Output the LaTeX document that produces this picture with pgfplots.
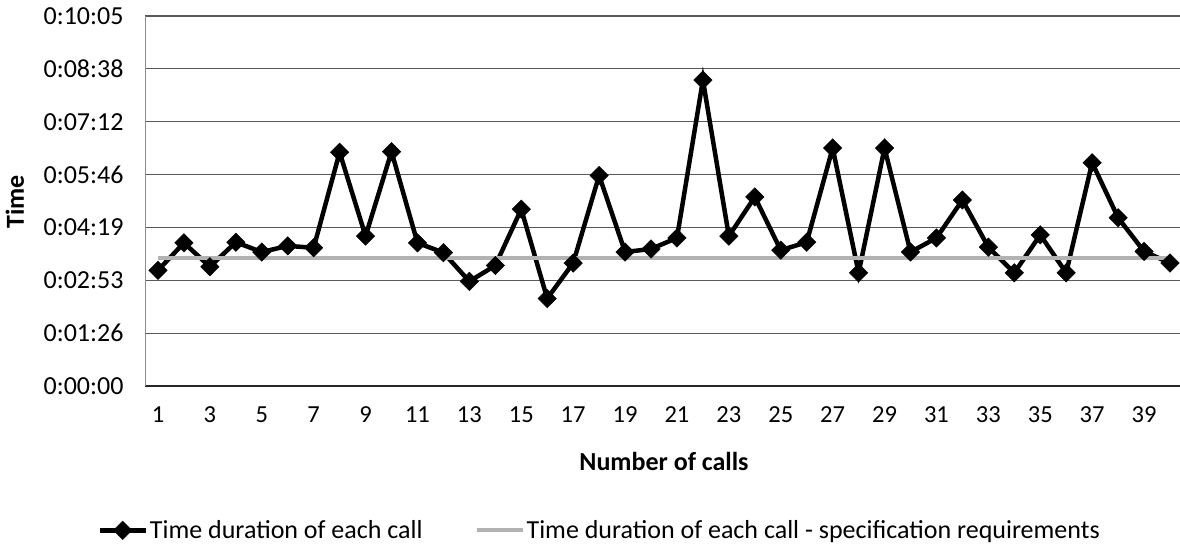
\documentclass[border=0pt]{standalone}
\usepackage{pgfplots}
\pgfplotsset{compat=1.18}
\usepackage{fontspec}
\setmainfont{Carlito}
\begin{document}
\begin{tikzpicture}[x=1pt,y=1pt]
\path[use as bounding box] (0,0) rectangle (1180,550);
\begin{axis}[
  at={(145pt,164pt)}, anchor=south west,
  scale only axis, width=1038pt, height=370pt,
  xmin=0.5, xmax=40.5, ymin=0, ymax=604.8,
  xtick={1,3,...,39},
  ytick={0,86.4,172.8,259.2,345.6,432,518.4,604.8},
  yticklabels={0:00:00,0:01:26,0:02:53,0:04:19,0:05:46,0:07:12,0:08:38,0:10:05},
  major tick length=0pt,
  ymajorgrids, grid style={black!65, line width=1.2pt},
  axis x line*=bottom, axis y line*=left,
  x axis line style={-, black!85, line width=1.2pt},
  y axis line style={-, black!45, line width=0.8pt},
  yticklabel style={font=\fontsize{26}{30}\selectfont, xshift=-18pt},
  xticklabel style={font=\fontsize{24.5}{29}\selectfont, yshift=-17pt},
  /pgf/number format/assume math mode=true,
  xlabel={\textbf{Number of calls}},
  ylabel={\textbf{Time}},
  label style={font=\fontsize{26}{30}\selectfont},
  xlabel style={at={(axis description cs:0.5,-0.203)}, anchor=center},
  ylabel style={at={(axis description cs:-0.1255,0.497)}, anchor=center},
  legend columns=2,
  legend style={draw=none, at={(axis description cs:0.438,-0.39)}, anchor=center,
    font=\fontsize{26}{30}\selectfont, /tikz/every even column/.append style={column sep=50pt},
    /tikz/every odd column/.append style={column sep=0pt}},
  legend image code/.code={\draw[#1] (0pt,0pt) -- (46pt,0pt); \draw[#1,mark repeat=2,mark phase=2] plot coordinates {(0pt,0pt) (23pt,0pt) (46pt,0pt)};},
  clip=false,
]
\addplot[black, line width=4.5pt, mark=square*, mark size=6.5pt, mark options={solid, rotate=45, line width=0.5pt}] coordinates {
(1,189) (2,234) (3,195) (4,235) (5,219) (6,229) (7,226) (8,382) (9,245) (10,383)
(11,234) (12,218) (13,171) (14,197) (15,289) (16,143) (17,201) (18,344) (19,219) (20,224)
(21,242) (22,500) (23,245) (24,309) (25,222) (26,235) (27,389) (28,185) (29,389) (30,219)
(31,242) (32,304) (33,227) (34,185) (35,247) (36,185) (37,365) (38,275) (39,220) (40,201)
};
\addlegendentry{Time duration of each call}
\addplot[black!30, line width=4pt, no marks] coordinates {
(1,210) (2,210) (3,210) (4,210) (5,210) (6,210) (7,210) (8,210) (9,210) (10,210)
(11,210) (12,210) (13,210) (14,210) (15,210) (16,210) (17,210) (18,210) (19,210) (20,210)
(21,210) (22,210) (23,210) (24,210) (25,210) (26,210) (27,210) (28,210) (29,210) (30,210)
(31,210) (32,210) (33,210) (34,210) (35,210) (36,210) (37,210) (38,210) (39,210) (40,210)
};
\addlegendentry{Time duration of each call - specification requirements}
\end{axis}
\end{tikzpicture}
\end{document}
